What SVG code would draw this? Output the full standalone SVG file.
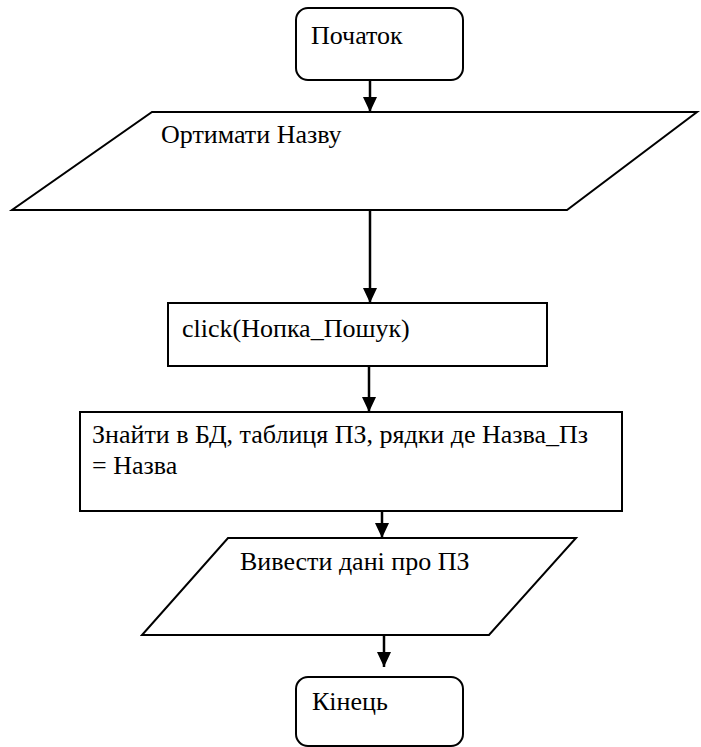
<svg xmlns="http://www.w3.org/2000/svg" width="701" height="747" viewBox="0 0 701 747">
  <style>
    .shape { fill: #ffffff; stroke: #000000; stroke-width: 2; }
    .label { font-family: "Liberation Serif", "Times New Roman", serif; font-size: 26px; fill: #000000; }
    .conn { stroke: #000000; stroke-width: 2.5; fill: none; marker-end: url(#arrow); }
  </style>
  <defs>
    <marker id="arrow" viewBox="0 0 15 14" refX="15" refY="7" markerWidth="15" markerHeight="14" markerUnits="userSpaceOnUse" orient="auto">
      <path d="M0,0 L15,7 L0,14 Z" fill="#000000"/>
    </marker>
  </defs>
  <rect width="701" height="747" fill="#ffffff"/>

  <!-- flow connectors -->
  <g id="connectors">
    <line class="conn" x1="370" y1="80" x2="370" y2="112"/>
    <line class="conn" x1="370" y1="210" x2="370" y2="303"/>
    <line class="conn" x1="369" y1="366" x2="369" y2="412"/>
    <line class="conn" x1="382" y1="511" x2="382" y2="538"/>
    <line class="conn" x1="384" y1="635" x2="384" y2="667"/>
  </g>

  <g id="start">
    <rect class="shape" x="296" y="8" width="167" height="72" rx="12" ry="12"/>
    <text class="label" x="311" y="44">Початок</text>
  </g>

  <g id="input-name">
    <polygon class="shape" points="152,112 697,112 567,210 12,210"/>
    <text class="label" x="161" y="143">Ортимати Назву</text>
  </g>

  <g id="click-search">
    <rect class="shape" x="168" y="303" width="379" height="63"/>
    <text class="label" x="182" y="337">click(Нопка_Пошук)</text>
  </g>

  <g id="find-records">
    <rect class="shape" x="80" y="412" width="542" height="99"/>
    <text class="label" x="92" y="443">Знайти в БД, таблиця ПЗ, рядки де Назва_Пз</text>
    <text class="label" x="92" y="474">= Назва</text>
  </g>

  <g id="output-data">
    <polygon class="shape" points="228,538 576,538 489,635 142,635"/>
    <text class="label" x="240" y="570">Вивести дані про ПЗ</text>
  </g>

  <g id="end">
    <rect class="shape" x="296" y="677" width="167" height="69" rx="12" ry="12"/>
    <text class="label" x="312" y="710">Кінець</text>
  </g>
</svg>
